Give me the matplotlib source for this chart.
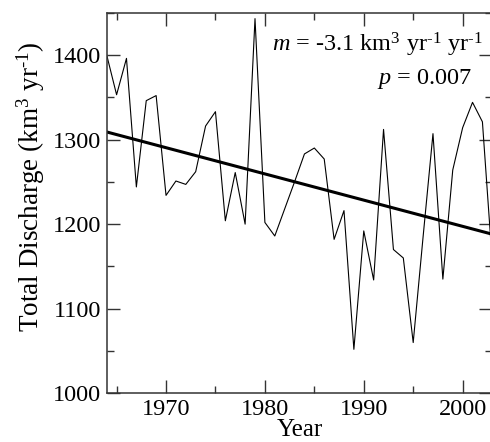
import matplotlib
matplotlib.use("Agg")
import matplotlib.pyplot as plt
from matplotlib.ticker import MultipleLocator
import numpy as np

years = list(range(1964, 2004))
discharge = [1400, 1353, 1396, 1244, 1346, 1352, 1234, 1251, 1247, 1262,
             1316, 1333, 1204, 1261, 1200, 1443, 1202, 1186, 1218, 1250,
             1283, 1290, 1277, 1182, 1216, 1052, 1192, 1134, 1312, 1170,
             1160, 1060, 1185, 1307, 1135, 1264, 1314, 1344, 1321, 1155]
trend_slope = -3.1
trend_start = 1309
x_ticks = [1970, 1980, 1990, 2000]
y_ticks = [1000, 1100, 1200, 1300, 1400]

plt.rcParams['font.family'] = ['Liberation Serif', 'DejaVu Serif']
plt.rcParams['mathtext.fontset'] = 'custom'
plt.rcParams['mathtext.rm'] = 'Liberation Serif'
plt.rcParams['mathtext.it'] = 'Liberation Serif:italic'

fig = plt.figure(figsize=(4.9, 4.42), dpi=100)
ax = fig.add_axes([106.7/490, (442-393.3)/442, (492.3-106.7)/490, (393.3-12.7)/442])

yrs = np.array(years, dtype=float)
ax.plot(yrs, discharge, color='black', lw=0.8)
trend = trend_start + trend_slope * (yrs - yrs[0])
ax.plot(yrs, trend, color='black', lw=2.2, solid_capstyle='butt')

ax.set_xlim(1964, 2003)
ax.set_ylim(1000, 1450)
ax.set_xticks(x_ticks)
ax.set_yticks(y_ticks)
ax.xaxis.set_minor_locator(MultipleLocator(5))
ax.yaxis.set_minor_locator(MultipleLocator(50))
ax.tick_params(which='both', direction='in', top=True, right=True,
               labelsize=17.5, color='#333333', width=1.0)
ax.tick_params(which='major', length=9.5, pad=4)
ax.tick_params(which='minor', length=5)
for s in ax.spines.values():
    s.set_linewidth(1.1)
    s.set_color('#333333')

ax.set_xlabel('Year', fontsize=18)
ax.xaxis.set_label_coords(0.5, -0.068)
ax.set_ylabel(r'Total Discharge (km$^{3}$ yr$^{\text{-1}}$)', fontsize=19.5)
ax.yaxis.set_label_coords(-0.155, 0.542)

ax.text(0.975, 0.897, r'$m$ = -3.1 km$^{3}$ yr$^{\text{-1}}$ yr$^{\text{-1}}$', transform=ax.transAxes,
        ha='right', va='baseline', fontsize=17.5)
ax.text(0.948, 0.812, '$p$ = 0.007', transform=ax.transAxes,
        ha='right', va='baseline', fontsize=17.5)

fig.savefig('out.png', dpi=100)
